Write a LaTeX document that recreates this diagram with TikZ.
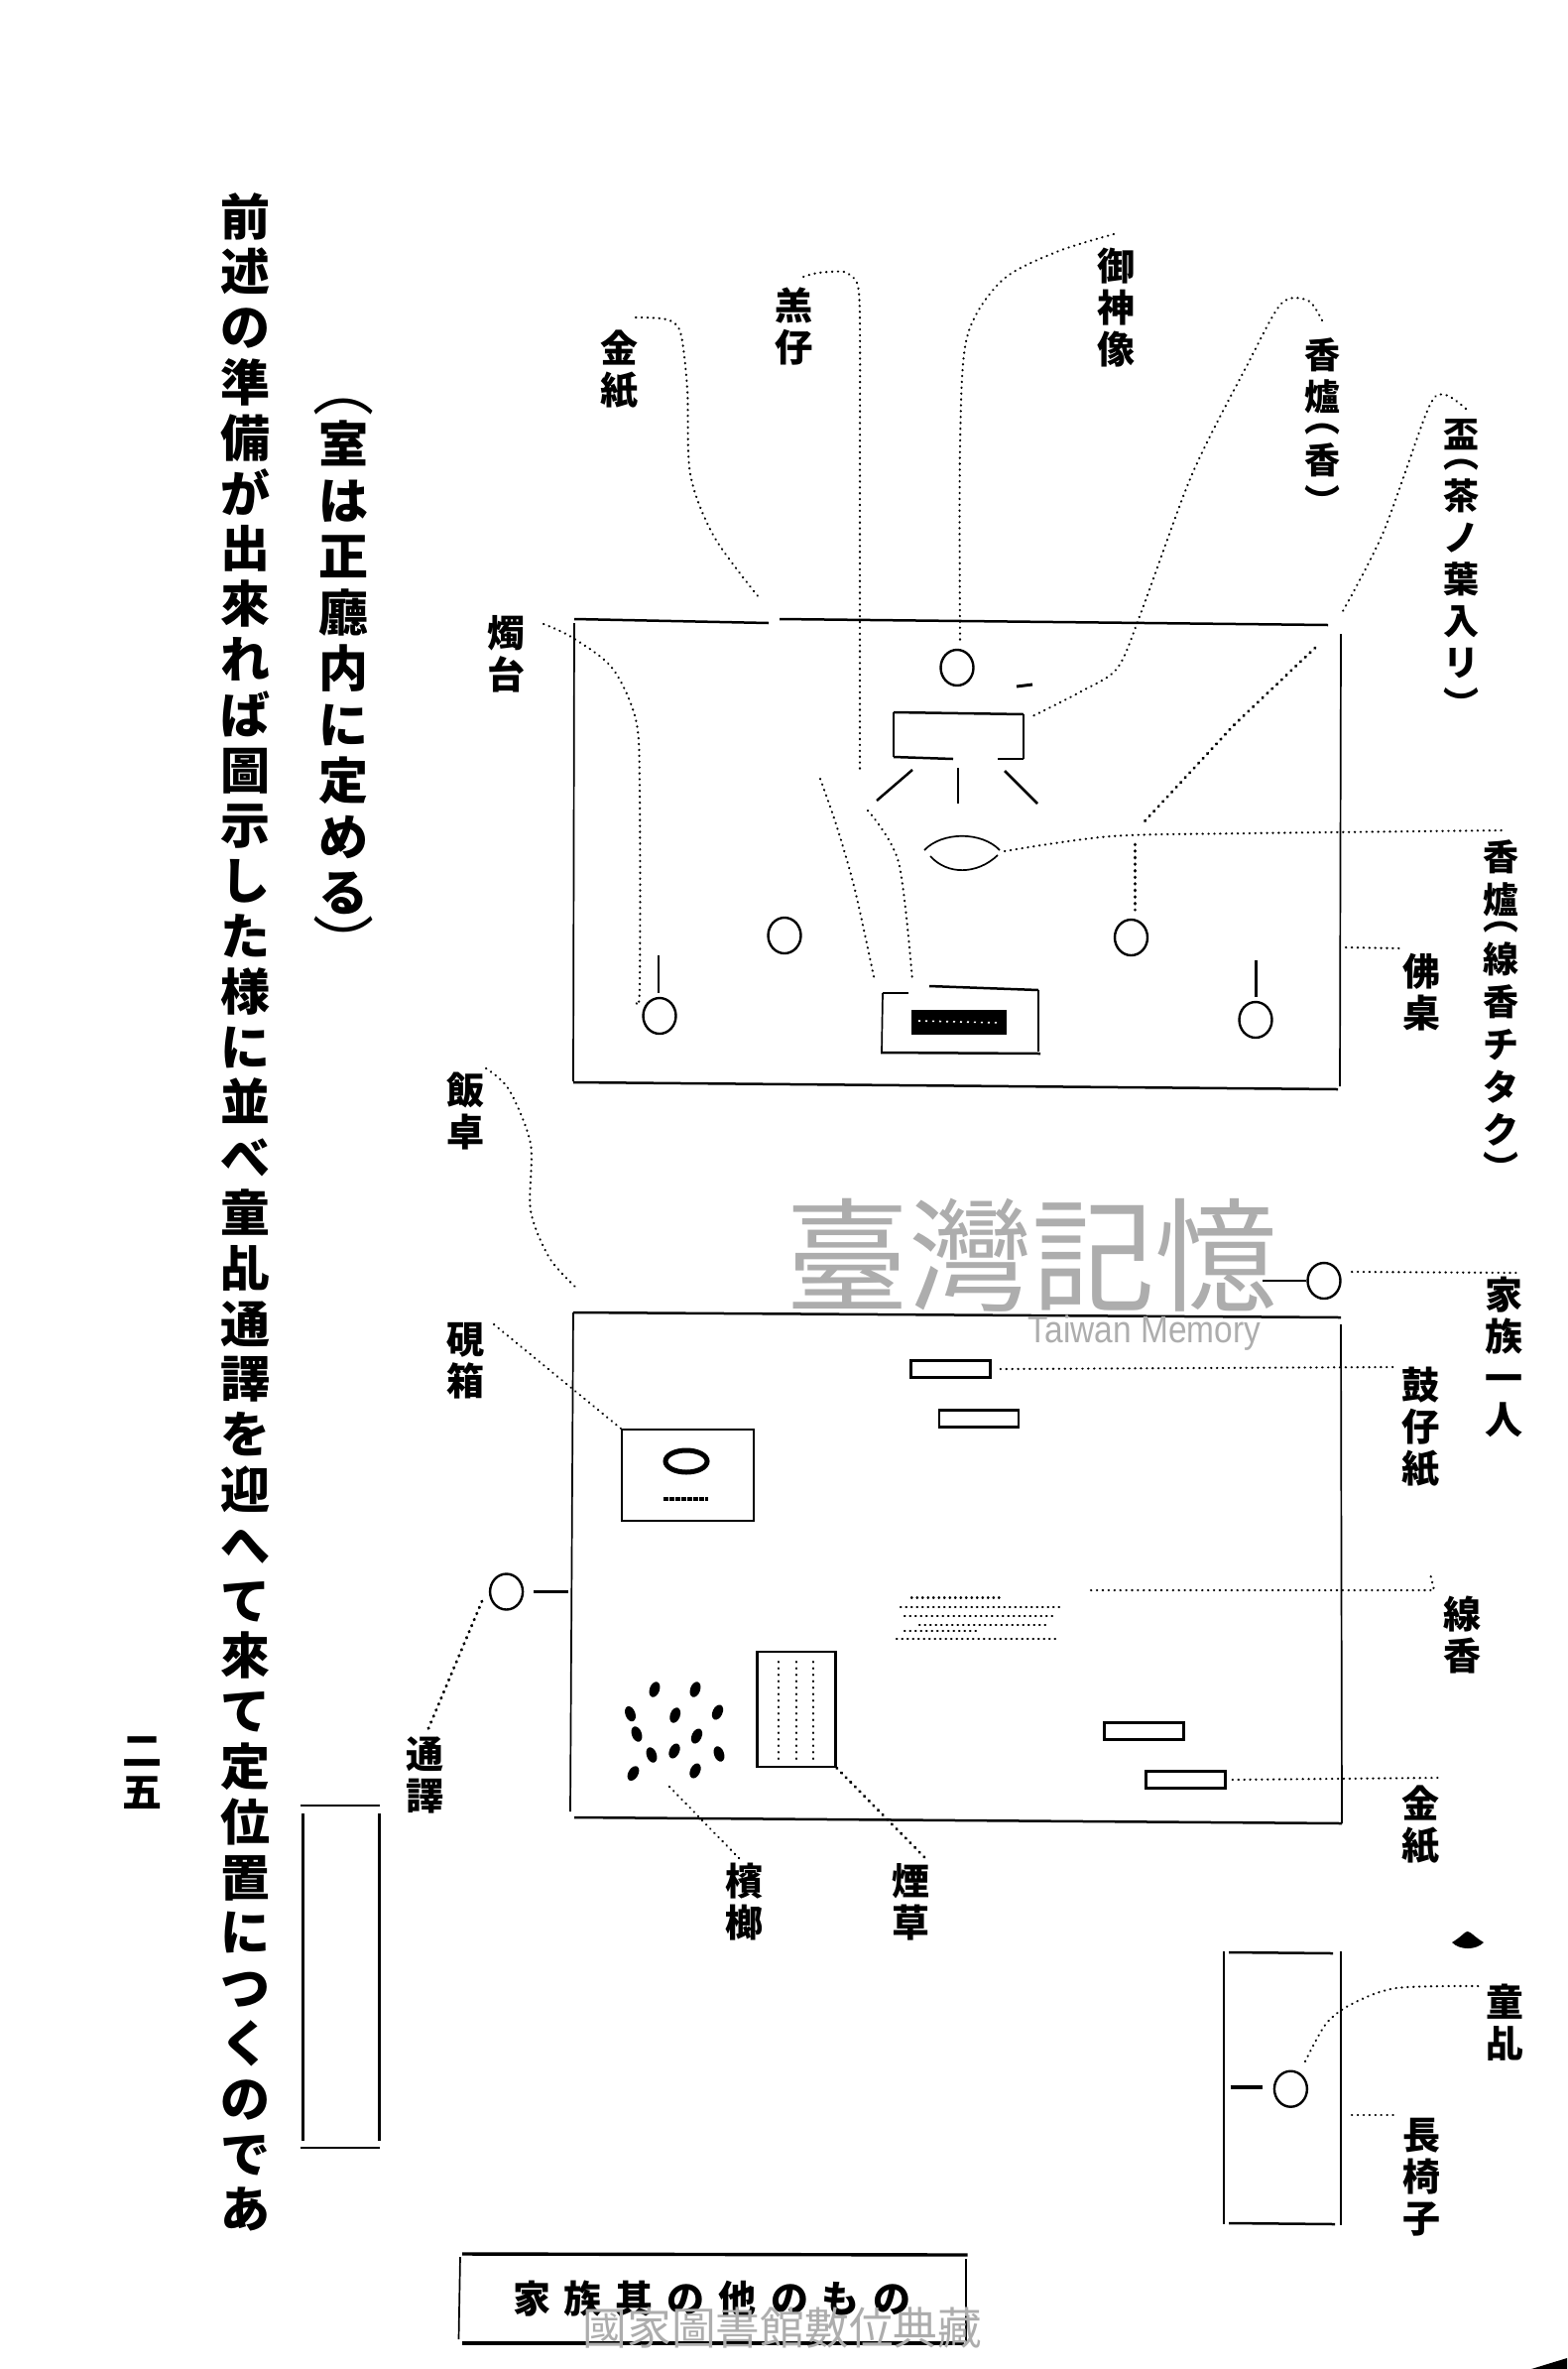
\documentclass[tikz,border=0pt]{standalone}
\usepackage{fontspec}
\usetikzlibrary{shapes.geometric}
\newfontfamily\cjk{Noto Sans CJK JP}
\setmainfont{Liberation Sans}
\definecolor{wm}{gray}{0.68}
\newcommand{\vp}{\hspace{14pt}}
\tikzset{
  x=1pt,y=-1pt,
  lab/.style args={#1/#2}{anchor=north,inner sep=0pt,align=center,font=\cjk\bfseries\fontsize{#1}{#2}\selectfont},
  body/.style args={#1/#2}{anchor=north,inner sep=0pt,align=center,font=\cjk\bfseries\fontsize{#1}{#2}\selectfont},
  bracket/.style={anchor=center,inner sep=0pt,font=\cjk\fontsize{62}{62}\selectfont},
  leader/.style={line width=2.2pt,line cap=round,dash pattern=on 0.4pt off 5.5pt},
  heavyleader/.style={line width=3pt,line cap=round,dash pattern=on 0.6pt off 6pt},
  rule/.style={line width=2.5pt},
  thin rule/.style={line width=1.7pt},
  person/.style={draw,ellipse,line width=2.4pt,inner sep=0pt,minimum width=33pt,minimum height=36pt},
  paper/.style={draw,rectangle,line width=2.3pt,inner sep=0pt,minimum width=80pt,minimum height=17pt},
  seed/.style={fill=black,ellipse,inner sep=0pt,minimum width=10pt,minimum height=16pt},
}
\begin{document}
\begin{tikzpicture}
\useasboundingbox (0,0) rectangle (1580,2388);
\fill[white] (0,0) rectangle (1580,2388);

% body text
\node[body=50/55.8] (main) at (247,194) {前\\述\\の\\準\\備\\が\\出\\來\\れ\\ば\\圖\\示\\し\\た\\様\\に\\並\\べ\\童\\乩\\通\\譯\\を\\迎\\へ\\て\\來\\て\\定\\位\\置\\に\\つ\\く\\の\\で\\あ};
\node[body=50/56.5] (note) at (346,424) {室\\は\\正\\廳\\内\\に\\定\\め\\る};
\node[bracket] (noteL) at (346,410) {︵};
\node[bracket] (noteR) at (346,950) {︶};
\node[lab=40/42] (pageno) at (143,1750) {二\\五};

% empty frame on page
\draw[line width=1.8pt] (303,1820) -- (383,1820);
\draw[line width=1.8pt] (303,2165) -- (383,2165);
\draw[line width=3.2pt] (305.7,1828) -- (305.7,2158);
\draw[line width=3.2pt] (382.7,1828) -- (382.7,2158);

% altar table
\draw[rule] (579,624) -- (775,628);
\draw[rule] (786,624) -- (1339,630);
\draw[thin rule] (1352,639) -- (1351,1095);
\draw[rule] (578,1091) -- (1349,1098);
\draw[thin rule] (579,628) -- (578,1090);

\node[person] (god) at (965,673) {};
\node[person] (candleA) at (791,943) {};
\node[person] (cupB) at (1140.5,945) {};
\node[person] (candleL) at (665,1024) {};
\node[person] (candleR) at (1266,1028) {};
\draw[rule] (664,963) -- (664,1001);
\draw[rule] (1266.5,968) -- (1266.5,1005);

% incense burner box and sticks
\draw[rule] (901,718) -- (1032,720);
\draw[rule] (901,718) -- (901,763);
\draw[rule] (1032,720) -- (1032,765);
\draw[rule] (901,763) -- (961,765);
\draw[rule] (1006,765) -- (1032,765);
\draw[rule] (920,776) -- (884,807);
\draw[rule] (966,774) -- (966,810);
\draw[rule] (1013,777) -- (1046,810);
\draw[line width=3pt] (1025,692) -- (1041,690);
\draw[thin rule] (932,857) .. controls (950,838) and (990,838) .. (1008,857);
\draw[thin rule] (938,863) .. controls (955,882) and (985,882) .. (1006,862);

% tray with black bar
\draw[rule] (890,1001) -- (916,1001);
\draw[rule] (937,994) -- (1047,998);
\draw[thin rule] (890,1001) -- (889,1060);
\draw[thin rule] (1047,998) -- (1047,1060);
\draw[rule] (888,1061) -- (1049,1062);
\fill[black] (919,1018) rectangle (1015,1043);
\draw[white,line width=1.6pt,dash pattern=on 2pt off 5pt] (926,1029) -- (1008,1031);

% leaders of the altar
\coordinate (kinT) at (641,320);
\coordinate (kinB) at (765,602);
\draw[leader] plot[smooth] coordinates {(kinT) (672,322) (686,335) (693,392) (696,478) (720,541) (kinB)};
\coordinate (koT) at (810,279);
\coordinate (koB) at (867,777);
\draw[leader] plot[smooth,tension=0.4] coordinates {(koT) (825,275) (851,274) (864,285) (867,320) (867,500) (koB)};
\coordinate (kinC) at (827,785);
\coordinate (kinD) at (882,989);
\draw[leader] plot[smooth] coordinates {(kinC) (844,834) (862,897) (kinD)};
\coordinate (koC) at (875,817);
\coordinate (koD) at (920,989);
\draw[leader] plot[smooth] coordinates {(koC) (906,869) (koD)};
\coordinate (goT) at (1123,236);
\coordinate (goB) at (968,650);
\draw[leader] plot[smooth] coordinates {(goT) (1065,254) (1010,283) (975,340) (968,450) (goB)};
\coordinate (hoT) at (1333,323);
\coordinate (hoB) at (1041,722);
\draw[leader] plot[smooth] coordinates {(hoT) (1319,303) (1292,306) (1257,369) (1202,478) (1151,616) (1127,673) (1092,696) (hoB)};
\coordinate (baT) at (1478,412);
\coordinate (baB) at (1354,616);
\draw[leader] plot[smooth] coordinates {(baT) (1457,398) (1440,412) (1395,536) (baB)};
\coordinate (baC) at (1326,653);
\coordinate (baD) at (1154,828);
\draw[heavyleader] (baC) -- (1244,731) -- (baD);
\coordinate (baE) at (1144,851);
\coordinate (baF) at (1144,917);
\draw[heavyleader] (baE) -- (baF);
\coordinate (seT) at (1519,837);
\coordinate (seB) at (1013,858);
\draw[leader] plot[smooth] coordinates {(seB) (1120,843) (1258,840) (seT)};
\coordinate (buA) at (1357,955);
\coordinate (buB) at (1412,956);
\draw[leader] (buA) -- (buB);
\coordinate (syT) at (548,629);
\coordinate (syB) at (641,1009);
\draw[leader] plot[smooth] coordinates {(syT) (576,642) (617,673) (641,725) (645,794) (645,995) (syB)};

% labels of the altar
\node[lab=38/42] (lKinT) at (624,333) {金\\紙};
\node[lab=38/42] (lKo) at (800,290) {羔\\仔};
\node[lab=38/42] (lGod) at (1125,250) {御\\神\\像};
\node[lab=36/42] (lHoA) at (1333,340) {香\\爐\\[-20pt]︵\\香\\︶};
\node[lab=36/42] (lBa) at (1473,422) {盃\\[-22pt]︵\\茶\\ノ\\葉\\入\\リ\\︶};
\node[lab=38/42] (lSy) at (510,620) {燭\\台};
\node[lab=36/43] (lHoB) at (1513,846) {香\\爐\\[-26pt]︵\\線\\香\\チ\\タ\\ク\\[-4pt]︶};
\node[lab=38/42] (lBu) at (1433,961) {佛\\桌};

% dining table
\draw[rule] (578,1323) -- (1352,1328);
\draw[thin rule] (578,1323) -- (575,1826);
\draw[thin rule] (1352,1335) -- (1353,1838);
\draw[rule] (579,1832) -- (1353,1838);

% family member
\node[person] (family) at (1335,1291) {};
\draw[rule] (1273,1291) -- (family.west);
\coordinate (faE) at (1529,1283);
\draw[leader] (1363,1282) -- (faE);

% paper rectangles
\node[paper] (drumA) at (958.5,1380) {};
\node[paper] (drumB) at (987,1430) {};
\node[paper] (goldA) at (1153.5,1745) {};
\node[paper] (goldB) at (1195.5,1794) {};
\coordinate (drE) at (1408,1378);
\draw[leader] ([xshift=9pt]drumA.east) -- (drE);
\coordinate (goE) at (1450,1792);
\draw[leader] ([xshift=6pt]goldB.east) -- (goE);

% inkstone box
\node[draw,rectangle,line width=2.3pt,inner sep=0pt,minimum width=133pt,minimum height=92pt] (inkbox) at (693.5,1487) {};
\node[draw,ellipse,line width=5pt,inner sep=0pt,minimum width=42pt,minimum height=22pt] (ink) at (692,1473) {};
\draw[line width=4pt,dash pattern=on 5pt off 1pt] (669,1510.6) -- (714,1510.6);
\coordinate (inT) at (498,1335);
\draw[leader] (inT) -- (inkbox.north west);

% rice table leader
\coordinate (riT) at (490,1077);
\coordinate (riB) at (581,1298);
\draw[leader] plot[smooth] coordinates {(riT) (513,1098) (535,1153) (535,1220) (554,1268) (riB)};

% interpreter
\node[person] (interp) at (510.6,1604.5) {};
\draw[rule] (538,1604.5) -- (573,1604.5);
\coordinate (iE) at (430,1747);
\draw[heavyleader] (486,1614) -- (iE);

% incense sticks
\coordinate (seA) at (1100,1603);
\coordinate (seC) at (1446,1603);
\coordinate (seD) at (1442,1586);
\draw[leader] (seA) -- (seC) -- (seD);
\foreach \ya/\xa/\xb in {1610.6/919/1009,1620/908/1070,1629/912/1062,1638/927/1055,1644/912/987,1652/904/1066}
  \draw[line width=2.4pt,line cap=round,dash pattern=on 0.5pt off 5pt] (\xa,\ya) -- (\xb,\ya);

% tobacco
\node[draw,rectangle,line width=2.3pt,inner sep=0pt,minimum width=79pt,minimum height=116pt] (tob) at (803,1723) {};
\foreach \xa in {785,803,820}
  \draw[line width=2.2pt,line cap=round,dash pattern=on 0.5pt off 6pt] (\xa,1675) -- (\xa,1778);
\coordinate (toE) at (934,1874);
\draw[heavyleader] (tob.south east) -- (toE);

% betel nuts
\foreach \xa/\ya/\ang in {660/1703/-20,701/1703/-20,635.5/1727.6/20,680.7/1729/-20,723.5/1726/-25,642/1748/20,702.5/1750/-25,657/1769/20,680/1765/-25,725/1768/20,638.5/1787.6/-30,701/1785/-25}
  \node[seed,rotate=\ang] at (\xa,\ya) {};
\coordinate (beA) at (675,1801);
\coordinate (beB) at (746,1874);
\draw[leader] (beA) -- (beB);

% labels of the table
\node[lab=38/42] (lRi) at (469,1081) {飯\\卓};
\node[lab=38/42] (lIn) at (469,1333) {硯\\箱};
\node[lab=38/42] (lTu) at (428,1751) {通\\譯};
\node[lab=38/42] (lBe) at (750,1878) {檳\\榔};
\node[lab=38/42] (lTo) at (918,1878) {煙\\草};
\node[lab=38/42] (lKinB) at (1432,1800) {金\\紙};
\node[lab=38/42] (lSe) at (1474.5,1609) {線\\香};
\node[lab=38/42] (lDr) at (1432,1378) {鼓\\仔\\紙};
\node[lab=38/42] (lFa) at (1516,1287) {家\\族\\一\\人};

% blob
\fill[black] (1464,1958) .. controls (1474,1952) and (1478,1946) .. (1480,1947) .. controls (1484,1948) and (1486,1952) .. (1496,1958) .. controls (1488,1966) and (1472,1966) .. cycle;

% bench
\draw[thin rule] (1234,1967) -- (1234,2242);
\draw[rule] (1239,1968) -- (1344,1969);
\draw[thin rule] (1352,1967) -- (1352,2243);
\draw[rule] (1239,2241) -- (1346,2242);
\node[person] (child) at (1301.4,2105.7) {};
\draw[line width=3.4pt] (1240.5,2104) -- (1273,2104);
\coordinate (chA) at (1316,2078);
\coordinate (chB) at (1491,2002);
\draw[leader] plot[smooth] coordinates {(chA) (1337,2040) (1363,2020) (1408,2004) (chB)};
\coordinate (beC) at (1363,2132);
\coordinate (beD) at (1407,2132);
\draw[leader] (beC) -- (beD);
\node[lab=38/42] (lCh) at (1517,2000) {童\\乩};
\node[lab=38/42] (lBn) at (1433,2135) {長\\椅\\子};

% caption
\draw[line width=3.4pt] (466,2272) -- (975.6,2273);
\draw[thin rule] (464,2275) -- (462.5,2358);
\draw[thin rule] (974,2277) -- (974,2362);
\draw[line width=3.2pt] (466,2362) -- (972,2362);
\node[anchor=center,inner sep=0pt,font=\cjk\bfseries\fontsize{38}{42}\selectfont] (cap) at (718,2317) {家\vp 族\vp 其\vp の\vp 他\vp の\vp も\vp の};

% corner
\fill[black] (1580,2377) -- (1544,2388) -- (1580,2388) -- cycle;

% watermarks
\node[anchor=center,inner sep=0pt,text=wm,font=\cjk\fontsize{44.7}{50}\selectfont] (wmA) at (789,2347) {國家圖書館數位典藏};
\node[anchor=center,inner sep=0pt,text=wm,font=\cjk\fontsize{124}{126}\selectfont] (wmB) at (1040,1265) {臺灣記憶};
\node[anchor=center,inner sep=0pt,text=wm,font=\fontsize{38}{40}\selectfont] (wmC) at (1154,1344) {\scalebox{0.88}[1]{Taiwan Memory}};
\end{tikzpicture}
\end{document}
